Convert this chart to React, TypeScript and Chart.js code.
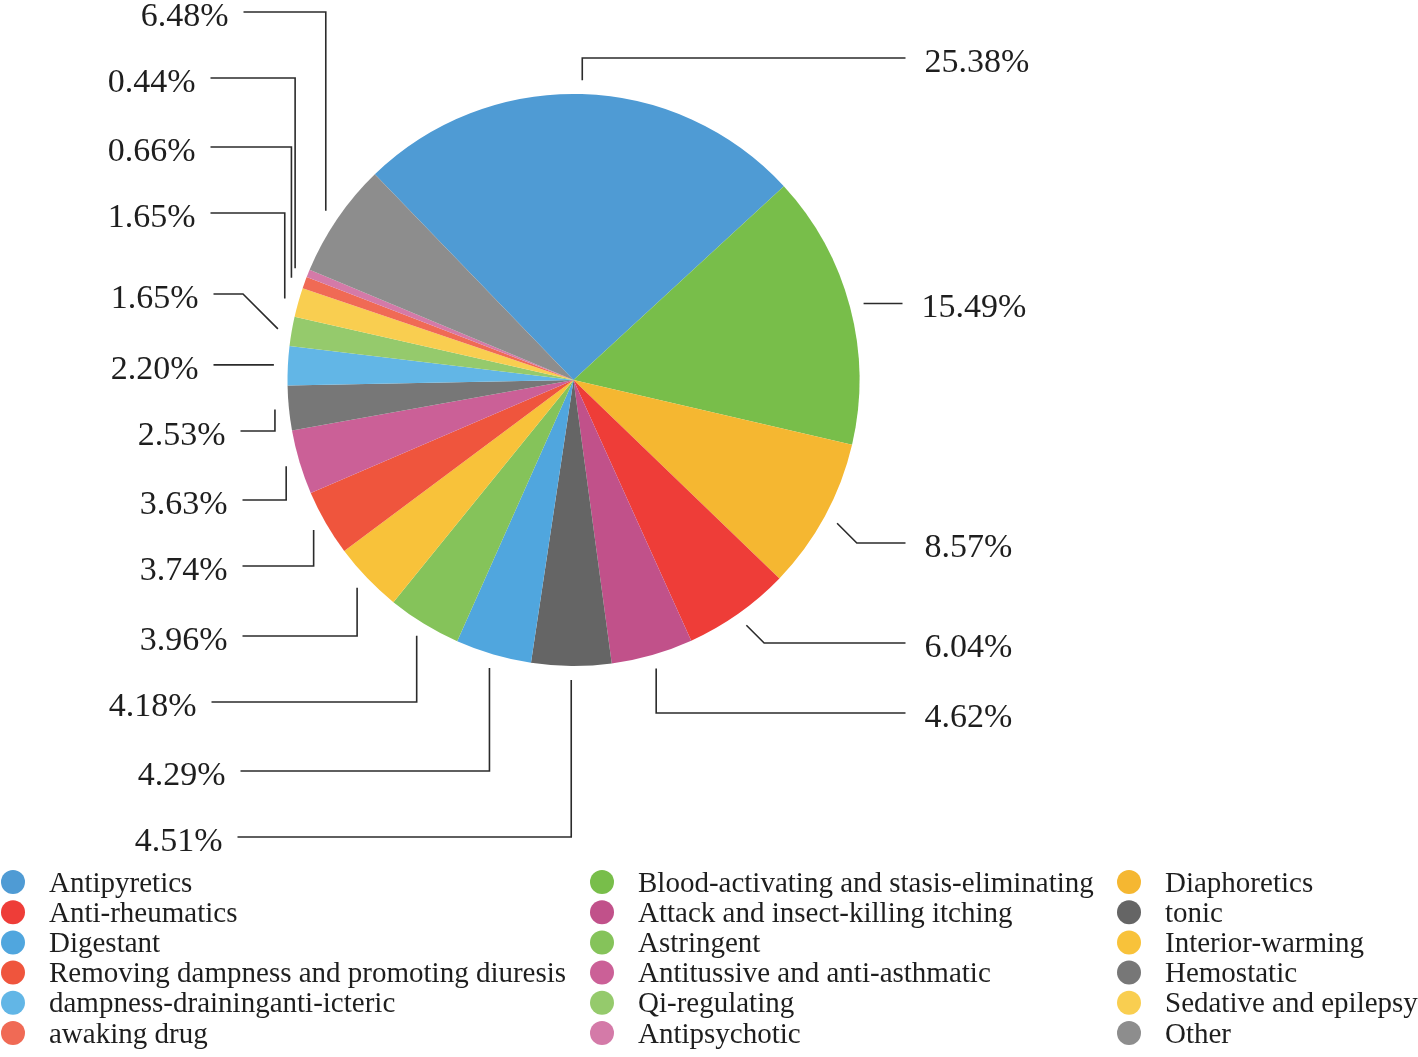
import React, { useEffect, useRef } from "react";
import { Chart, registerables } from "chart.js";

Chart.register(...registerables);

const categories = [
  "Antipyretics",
  "Blood-activating and stasis-eliminating",
  "Diaphoretics",
  "Anti-rheumatics",
  "Attack and insect-killing itching",
  "tonic",
  "Digestant",
  "Astringent",
  "Interior-warming",
  "Removing dampness and promoting diuresis",
  "Antitussive and anti-asthmatic",
  "Hemostatic",
  "dampness-draininganti-icteric",
  "Qi-regulating",
  "Sedative and epilepsy",
  "awaking drug",
  "Antipsychotic",
  "Other",
];

const percentages = [
  25.38, 15.49, 8.57, 6.04, 4.62, 4.51, 4.29, 4.18, 3.96, 3.74, 3.63, 2.53,
  2.2, 1.65, 1.65, 0.66, 0.44, 6.48,
];

const colors = [
  "#4F9BD4", "#78BE4A", "#F5B731", "#EE3D38", "#C1518A", "#656565",
  "#50A6DE", "#85C35A", "#F8C23A", "#EF553D", "#CB6097", "#777777",
  "#62B6E6", "#95CA6C", "#F9CE50", "#F06A55", "#D47AA8", "#8D8D8D",
];

// leader line layout: [kind, knee/elbow y offset from centre, line end x offset from centre]
const leaders: [string, number, number][] = [
  ["v", -322, 332],
  ["h", 0, 329],
  ["d", 163, 332],
  ["d", 263, 332],
  ["v", 333, 332],
  ["v", 457, -336],
  ["v", 391, -333],
  ["v", 322, -362],
  ["v", 256, -331],
  ["v", 186, -331],
  ["v", 120, -331],
  ["v", 51, -333],
  ["h", 0, -360],
  ["d", -86, -360],
  ["v", -167, -363],
  ["v", -233, -363],
  ["v", -302, -363],
  ["v", -368, -330],
];

const FONT = "'Liberation Serif', 'Times New Roman', serif";

const leaderPlugin = {
  id: "leaderLabels",
  afterDatasetsDraw(chart: any) {
    const ctx = chart.ctx;
    const meta = chart.getDatasetMeta(0);
    ctx.save();
    ctx.strokeStyle = "#2b2b2b";
    ctx.lineWidth = 1.6;
    ctx.fillStyle = "#1e1e1e";
    ctx.font = `34px ${FONT}`;
    ctx.textBaseline = "middle";
    meta.data.forEach((arc: any, i: number) => {
      const cx = arc.x;
      const cy = arc.y;
      const mid = (arc.startAngle + arc.endAngle) / 2;
      const r = arc.outerRadius + 14;
      const sx = cx + Math.cos(mid) * r;
      const sy = cy + Math.sin(mid) * r;
      const [kind, kdy, edx] = leaders[i];
      const ex = cx + edx;
      let ly = sy;
      ctx.beginPath();
      ctx.moveTo(sx, sy);
      if (kind === "v") {
        ly = cy + kdy;
        ctx.lineTo(sx, ly);
      } else if (kind === "d") {
        ly = cy + kdy;
        const d = Math.abs(ly - sy);
        const kx = sx + (edx > 0 ? d : -d);
        ctx.lineTo(kx, ly);
      }
      ctx.lineTo(ex, ly);
      ctx.stroke();
      const txt = percentages[i].toFixed(2) + "%";
      if (edx > 0) {
        ctx.textAlign = "left";
        ctx.fillText(txt, ex + 19, ly + 5);
      } else {
        ctx.textAlign = "right";
        ctx.fillText(txt, ex - 15, ly + 5);
      }
    });
    ctx.restore();
  },
};

const LEGEND_COLS = [13, 602, 1129];
const LEGEND_TEXT_DX = 36;
const LEGEND_TOP = 882;
const LEGEND_ROW = 30.2;

const legendPlugin = {
  id: "gridLegend",
  afterDraw(chart: any) {
    const ctx = chart.ctx;
    const labels = chart.data.labels as string[];
    const bg = chart.data.datasets[0].backgroundColor as string[];
    ctx.save();
    ctx.font = `29px ${FONT}`;
    ctx.textBaseline = "middle";
    ctx.textAlign = "left";
    labels.forEach((lab, i) => {
      const col = i % 3;
      const row = Math.floor(i / 3);
      const x = LEGEND_COLS[col];
      const y = LEGEND_TOP + row * LEGEND_ROW;
      ctx.fillStyle = bg[i];
      ctx.beginPath();
      ctx.arc(x, y, 12, 0, Math.PI * 2);
      ctx.fill();
      ctx.fillStyle = "#1e1e1e";
      ctx.fillText(lab, x + LEGEND_TEXT_DX, y + 2);
    });
    ctx.restore();
  },
};

export default function App() {
  const ref = useRef<HTMLCanvasElement>(null);
  useEffect(() => {
    if (!ref.current) return;
    const chart = new Chart(ref.current, {
      type: "pie",
      data: {
        labels: categories,
        datasets: [
          {
            data: percentages,
            backgroundColor: colors,
            borderWidth: 0,
          },
        ],
      },
      options: {
        animation: false,
        responsive: false,
        rotation: -44,
        layout: {
          padding: { top: 94, bottom: 391, left: 287, right: 558 },
        },
        plugins: {
          legend: { display: false },
          tooltip: { enabled: false },
        },
      },
      plugins: [leaderPlugin, legendPlugin],
    });
    return () => chart.destroy();
  }, []);
  return (
    <div style={{ position: "fixed", left: 0, top: 0, width: 1418, height: 1057, background: "#fff" }}>
      <canvas ref={ref} width={1418} height={1057} style={{ width: 1418, height: 1057 }} />
    </div>
  );
}
